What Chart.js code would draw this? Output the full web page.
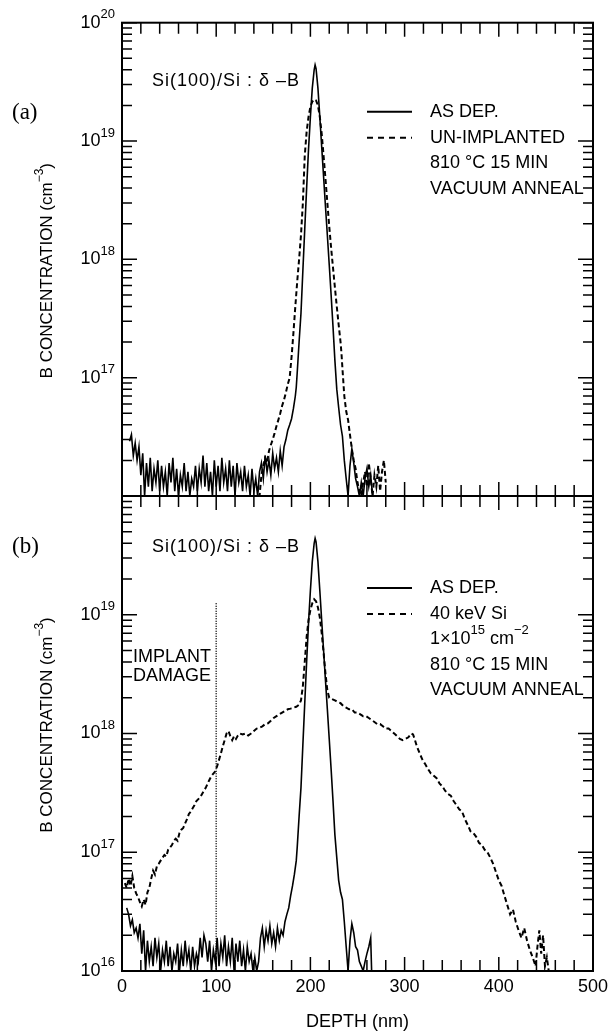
<!DOCTYPE html>
<html>
<head>
<meta charset="utf-8">
<script src="https://cdn.jsdelivr.net/npm/chart.js@4.4.0/dist/chart.umd.min.js"></script>
<style>
    html, body { margin: 0; padding: 0; background: #fff; }
    #wrap { position: relative; width: 611px; height: 1033px; }
    canvas { position: absolute; left: 0; }
    #chartA { top: 0; }
    #chartB { top: 480px; }
</style>
</head>
<body>
<div id="wrap">
    <canvas id="chartA" width="611" height="520"></canvas>
    <canvas id="chartB" width="611" height="553"></canvas>
</div>
<script>
// ---- data (depth in nm, B concentration in cm^-3) ----

// (a) as deposited
const depthAsDepA = [8,10,12,14,16,18,20,22,24,26,28,30,32,34,36,38,40,42,44,46,48,50,52,54,56,58,60,62,64,66,68,70,72,74,76,78,80,82,84,86,88,90,92,94,96,98,100,102,104,106,108,110,112,114,116,118,120,122,124,126,128,130,132,134,136,138,140,142,144,146,148,150,152,154,156,158,160,162,164,166,168,170,172,174,176,178,180,182,184,185,186,188,190,192,194,196,198,200,202,204,205,206,208,210,212,214,216,218,220,222,224,226,228,230,232,234,236,238,240,242,244,246,248,250,252,254,256,258,260,262,264,266];
const concAsDepA = [2.9e16,3.3e16,2.2e16,2.8e16,2.0e16,2.6e16,1.5e16,2.3e16,1.0e16,1.9e16,1.2e16,2.1e16,1.1e16,1.7e16,1.3e16,2.0e16,1.1e16,1.8e16,1.2e16,1.6e16,1.0e16,1.9e16,1.3e16,2.1e16,1.1e16,1.7e16,1.0e16,1.5e16,1.2e16,1.9e16,1.1e16,1.6e16,1.0e16,1.4e16,1.2e16,1.8e16,1.1e16,1.7e16,1.3e16,2.2e16,1.2e16,1.9e16,1.1e16,1.6e16,1.0e16,2.0e16,1.2e16,1.8e16,1.1e16,2.1e16,1.3e16,1.7e16,1.1e16,2.0e16,1.2e16,1.8e16,1.0e16,1.9e16,1.3e16,1.6e16,1.1e16,1.8e16,1.2e16,1.5e16,1.0e16,1.7e16,1.1e16,1.4e16,1.0e16,1.6e16,1.9e16,1.4e16,2.2e16,1.6e16,2.0e16,1.5e16,2.3e16,1.7e16,2.1e16,1.6e16,2.4e16,1.8e16,2.6e16,3.0e16,3.6e16,4.0e16,4.5e16,5.5e16,7.0e16,8.3e16,1.1e17,2.0e17,3.5e17,8.0e17,1.8e18,4.0e18,8.5e18,1.6e19,2.8e19,4.0e19,4.4e19,4.1e19,2.8e19,1.6e19,8.9e18,5.0e18,2.8e18,1.6e18,9.0e17,5.0e17,2.7e17,1.4e17,8.0e16,5.6e16,4.0e16,3.2e16,2.0e16,1.4e16,1.0e16,1.8e16,2.5e16,1.9e16,1.4e16,1.2e16,1.0e16,1.3e16,1.0e16,1.4e16,1.7e16,1.2e16,1.5e16,1.0e16];

// (a) un-implanted, 810 C 15 min vacuum anneal
const depthUnimplA = [143,146,148,150,152,154,156,158,160,162,164,166,168,170,172,174,176,178,180,182,184,186,188,190,192,194,196,198,200,202,204,206,208,210,212,214,216,218,220,222,224,226,228,230,232,233,234,236,238,240,242,244,246,248,250,252,254,256,258,260,262,264,266,268,270,272,274,276,278,280];
const concUnimplA = [1.2e16,1.0e16,1.5e16,1.8e16,2.1e16,1.9e16,2.4e16,2.7e16,3.0e16,3.4e16,3.9e16,4.4e16,5.0e16,5.8e16,6.5e16,7.5e16,8.8e16,1.0e17,1.5e17,2.4e17,4.0e17,6.5e17,1.0e18,1.6e18,3.0e18,7.5e18,1.2e19,1.6e19,1.95e19,2.15e19,2.25e19,2.2e19,2.0e19,1.6e19,1.15e19,7.5e18,4.8e18,3.0e18,1.9e18,1.25e18,8.5e17,5.8e17,4.0e17,2.8e17,2.0e17,1.6e17,1.2e17,7.0e16,5.2e16,4.4e16,3.3e16,2.5e16,2.0e16,1.7e16,1.3e16,1.1e16,1.0e16,1.3e16,1.6e16,1.2e16,1.9e16,1.4e16,1.0e16,1.5e16,1.2e16,1.8e16,1.1e16,1.6e16,2.0e16,1.3e16];

// (b) as deposited
const depthAsDepB = [5,7,9,11,13,15,17,19,21,23,25,27,29,31,33,35,37,39,41,43,45,47,49,51,53,55,57,59,61,63,65,67,69,71,73,75,77,79,81,83,85,87,89,91,93,95,97,99,101,103,105,107,109,111,113,115,117,119,121,123,125,127,129,131,133,135,137,139,141,143,145,147,149,151,153,155,157,159,161,163,165,167,169,171,173,175,177,179,181,183,185,186,188,190,192,194,196,198,200,202,204,205,206,208,210,212,214,216,218,220,222,224,226,228,230,232,234,236,238,240,242,244,246,248,250,252,254,256,258,260,262,264,265];
const concAsDepB = [3.4e16,3.0e16,2.4e16,2.7e16,2.1e16,2.3e16,1.9e16,2.5e16,1.4e16,2.2e16,1.0e16,1.8e16,1.2e16,1.6e16,1.1e16,1.9e16,1.3e16,1.7e16,1.0e16,1.5e16,1.2e16,1.8e16,1.1e16,1.6e16,1.0e16,1.4e16,1.2e16,1.7e16,1.0e16,1.5e16,1.1e16,1.8e16,1.2e16,1.5e16,1.0e16,1.6e16,1.1e16,1.4e16,1.2e16,1.9e16,1.3e16,2.0e16,1.7e16,1.2e16,1.8e16,1.0e16,1.5e16,1.2e16,1.9e16,1.1e16,1.7e16,1.3e16,2.0e16,1.1e16,1.6e16,1.2e16,1.9e16,1.0e16,1.7e16,1.2e16,1.8e16,1.1e16,1.5e16,1.0e16,1.6e16,1.2e16,1.4e16,1.0e16,1.3e16,1.0e16,1.2e16,1.9e16,2.3e16,1.6e16,2.2e16,1.8e16,2.4e16,1.7e16,2.1e16,1.6e16,2.3e16,1.8e16,2.2e16,2.0e16,2.6e16,3.0e16,3.4e16,4.3e16,5.2e16,6.5e16,8.5e16,1.1e17,2.0e17,3.5e17,8.0e17,1.8e18,4.0e18,8.5e18,1.6e19,2.8e19,4.0e19,4.4e19,4.1e19,2.8e19,1.6e19,8.9e18,5.0e18,2.8e18,1.6e18,9.0e17,5.0e17,2.7e17,1.4e17,9.0e16,5.8e16,4.6e16,4.0e16,2.6e16,1.6e16,1.0e16,1.8e16,2.5e16,2.1e16,1.6e16,1.5e16,1.2e16,1.1e16,1.0e16,1.2e16,1.4e16,1.6e16,1.9e16,1.0e16];

// (b) 40 keV Si, 1e15 cm^-2, 810 C 15 min vacuum anneal
const depthImplB = [3,5,7,9,11,13,15,17,19,21,23,25,27,29,31,33,35,37,39,41,43,45,47,49,51,53,55,57,59,61,63,65,67,69,71,73,75,77,79,81,83,85,87,89,91,93,95,97,99,101,103,105,107,109,111,113,115,117,119,121,123,125,128,131,134,137,140,143,146,149,152,155,158,161,164,167,170,173,176,179,182,185,188,190,192,194,196,198,200,202,204,206,208,210,212,214,216,218,220,223,226,229,232,235,238,241,244,247,250,253,256,259,262,265,268,271,274,277,280,283,286,289,292,295,298,301,304,307,309,311,313,316,319,322,325,328,331,334,337,340,343,346,349,352,355,358,361,364,367,370,373,376,379,382,385,388,391,394,397,400,403,406,409,412,415,418,421,424,427,430,433,436,439,441,443,445,447,449,451,453];
const concImplB = [5.5e16,5.0e16,6.0e16,5.2e16,6.3e16,5.0e16,4.5e16,4.2e16,3.8e16,3.5e16,4.0e16,3.6e16,4.6e16,5.0e16,6.0e16,7.0e16,6.5e16,7.6e16,8.0e16,8.5e16,9.0e16,9.5e16,9.2e16,1.05e17,1.1e17,1.15e17,1.25e17,1.3e17,1.25e17,1.45e17,1.55e17,1.6e17,1.75e17,1.9e17,2.1e17,2.2e17,2.35e17,2.5e17,2.7e17,2.8e17,2.9e17,3.1e17,3.3e17,3.5e17,3.8e17,4.1e17,4.4e17,4.6e17,4.8e17,5.3e17,6.0e17,6.8e17,7.8e17,8.8e17,1.0e18,1.05e18,9.5e17,8.8e17,9.5e17,9.0e17,9.6e17,1.0e18,9.8e17,1.0e18,9.6e17,1.0e18,1.05e18,1.1e18,1.12e18,1.15e18,1.2e18,1.22e18,1.28e18,1.35e18,1.4e18,1.45e18,1.5e18,1.55e18,1.6e18,1.62e18,1.65e18,1.68e18,1.75e18,1.9e18,2.5e18,4.0e18,6.5e18,9.0e18,1.1e19,1.25e19,1.35e19,1.3e19,1.15e19,9.5e18,7.0e18,4.8e18,3.2e18,2.3e18,2.0e18,1.95e18,1.9e18,1.85e18,1.8e18,1.7e18,1.65e18,1.6e18,1.6e18,1.5e18,1.5e18,1.45e18,1.4e18,1.4e18,1.35e18,1.3e18,1.25e18,1.2e18,1.2e18,1.15e18,1.1e18,1.1e18,1.05e18,1.0e18,9.5e17,9.0e17,8.8e17,9.0e17,9.3e17,1.0e18,9.8e17,8.8e17,7.8e17,6.8e17,6.0e17,5.5e17,5.0e17,4.6e17,4.4e17,4.2e17,3.8e17,3.6e17,3.3e17,3.1e17,3.0e17,2.7e17,2.5e17,2.3e17,2.2e17,1.9e17,1.7e17,1.5e17,1.45e17,1.35e17,1.2e17,1.15e17,1.05e17,1.0e17,9.0e16,8.0e16,6.8e16,5.8e16,5.2e16,4.3e16,3.6e16,3.0e16,3.3e16,2.6e16,2.2e16,1.9e16,2.3e16,1.8e16,1.5e16,1.3e16,1.1e16,1.6e16,2.2e16,1.4e16,2.0e16,1.1e16,1.3e16,1.0e16];

// implant damage marker
const damageDepth = [100, 100];
const damageConc = [1.25e19, 1.0e16];

// axes
const xTickLabels = [0, 100, 200, 300, 400, 500];
const yTickExpA = [20, 19, 18, 17];
const yTickExpB = [19, 18, 17, 16];

const FONT = '"Liberation Sans", Arial, Helvetica, sans-serif';
const SERIF = '"Liberation Serif", "Times New Roman", serif';

function toPoints(xs, ys) {
    return xs.map((x, i) => ({ x: x, y: ys[i] }));
}

// text made of [string, isSuperscript] pieces
function drawSegments(ctx, segs, x, y, size, align) {
    const supSize = Math.round(size * 0.72);
    let total = 0;
    segs.forEach(s => {
        ctx.font = (s[1] ? supSize : size) + 'px ' + FONT;
        total += ctx.measureText(s[0]).width;
    });
    let cx = align === 'right' ? x - total : (align === 'center' ? x - total / 2 : x);
    ctx.textAlign = 'left';
    ctx.textBaseline = 'middle';
    segs.forEach(s => {
        ctx.font = (s[1] ? supSize : size) + 'px ' + FONT;
        ctx.fillText(s[0], cx, s[1] ? y - size * 0.45 : y);
        cx += ctx.measureText(s[0]).width;
    });
}

// frame, inward ticks, tick labels, legend and notes
const figurePlugin = {
    id: 'figure',
    afterDatasetsDraw(chart, args, opts) {
        const ctx = chart.ctx;
        const a = chart.chartArea;
        const xs = chart.scales.x, ys = chart.scales.y;
        ctx.save();
        ctx.strokeStyle = '#000';
        ctx.fillStyle = '#000';
        ctx.setLineDash([]);

        // x ticks every 20 nm on top and bottom edges
        ctx.lineWidth = 1.5;
        for (let d = 0; d <= 500; d += 20) {
            const px = xs.getPixelForValue(d);
            const len = d % 100 === 0 ? 14 : 11;
            ctx.beginPath();
            ctx.moveTo(px, a.top); ctx.lineTo(px, a.top + len);
            ctx.moveTo(px, a.bottom); ctx.lineTo(px, a.bottom - len);
            ctx.stroke();
        }

        // y ticks, decades and 2..9
        for (let e = 16; e <= 20; e++) {
            for (let m = 1; m <= 9; m++) {
                if (e === 20 && m > 1) break;
                const py = ys.getPixelForValue(m * Math.pow(10, e));
                const len = m === 1 ? 15 : 10;
                ctx.beginPath();
                ctx.moveTo(a.left, py); ctx.lineTo(a.left + len, py);
                ctx.moveTo(a.right, py); ctx.lineTo(a.right - len, py);
                ctx.stroke();
            }
        }

        // frame
        ctx.lineWidth = 2;
        ctx.strokeRect(a.left, a.top, a.right - a.left, a.bottom - a.top);

        // y tick labels
        opts.yExps.forEach(e => {
            const py = ys.getPixelForValue(Math.pow(10, e));
            drawSegments(ctx, [['10', false], [String(e), true]], a.left - 7, py, 18, 'right');
        });

        // x tick labels
        if (opts.xLabels) {
            ctx.font = '18px ' + FONT;
            ctx.textAlign = 'center';
            ctx.textBaseline = 'middle';
            xTickLabels.forEach(v => {
                ctx.fillText(String(v), xs.getPixelForValue(v), a.bottom + 16);
            });
            ctx.fillText('DEPTH (nm)', (a.left + a.right) / 2, a.bottom + 51);
        }

        // y axis title
        ctx.save();
        ctx.translate(47, a.top + opts.titleY);
        ctx.rotate(-Math.PI / 2);
        drawSegments(ctx, [['B CONCENTRATION (cm', false], ['\u22123', true], [')', false]], 0, 0, 17, 'center');
        ctx.restore();

        // panel letter and sample title
        ctx.font = '23px ' + SERIF;
        ctx.textAlign = 'left';
        ctx.textBaseline = 'middle';
        ctx.fillText(opts.letter, 12, a.top + opts.letterY);
        ctx.letterSpacing = '1px';
        drawSegments(ctx, [['Si(100)/Si : \u03b4 \u2013B', false]], 152, a.top + opts.sampleY, 18, 'left');
        ctx.letterSpacing = '0px';

        // legend
        opts.legend.forEach(row => {
            const y = a.top + row.y;
            if (row.line) {
                ctx.lineWidth = 2;
                ctx.setLineDash(row.line === 'dash' ? [6, 5] : []);
                ctx.beginPath();
                ctx.moveTo(367, y); ctx.lineTo(412, y);
                ctx.stroke();
                ctx.setLineDash([]);
            }
            drawSegments(ctx, row.text, 430, y, 18, 'left');
        });

        // implant damage note
        if (opts.damage) {
            ctx.font = '18px ' + FONT;
            ctx.textAlign = 'left';
            ctx.textBaseline = 'middle';
            ctx.fillText('IMPLANT', 133, a.top + 161);
            ctx.fillText('DAMAGE', 133, a.top + 180);
        }
        ctx.restore();
    }
};

function lineSet(label, xs, ys, dashed) {
    return {
        label: label,
        data: toPoints(xs, ys),
        borderColor: '#000',
        borderWidth: dashed ? 2 : 1.6,
        borderDash: dashed ? [5, 3] : [],
        pointRadius: 0,
        tension: 0,
        fill: false
    };
}

function getOptions(padding, figureOpts) {
    return {
        responsive: false,
        animation: false,
        events: [],
        layout: { padding: padding },
        plugins: {
            legend: { display: false },
            tooltip: { enabled: false },
            figure: figureOpts
        },
        scales: {
            x: { type: 'linear', min: 0, max: 500, display: false },
            y: { type: 'logarithmic', min: 1e16, max: 1e20, display: false }
        }
    };
}

function initTopChart() {
    const ctx = document.getElementById('chartA').getContext('2d');
    window.chartA = new Chart(ctx, {
        type: 'line',
        data: {
            datasets: [
                lineSet('AS DEP.', depthAsDepA, concAsDepA, false),
                lineSet('UN-IMPLANTED', depthUnimplA, concUnimplA, true)
            ]
        },
        options: getOptions({ left: 122, right: 18, top: 22.7, bottom: 24 }, {
            yExps: yTickExpA,
            xLabels: false,
            titleY: 248,
            letter: '(a)',
            letterY: 90,
            sampleY: 58,
            damage: false,
            legend: [
                { y: 89, line: 'solid', text: [['AS DEP.', false]] },
                { y: 115, line: 'dash', text: [['UN-IMPLANTED', false]] },
                { y: 140.5, text: [['810 \u00b0C 15 MIN', false]] },
                { y: 166, text: [['VACUUM ANNEAL', false]] }
            ]
        }),
        plugins: [figurePlugin]
    });
}

function initBottomChart() {
    const ctx = document.getElementById('chartB').getContext('2d');
    const damage = lineSet('damage', damageDepth, damageConc, false);
    damage.borderDash = [1, 1.5];
    damage.borderWidth = 1.5;
    window.chartB = new Chart(ctx, {
        type: 'line',
        data: {
            datasets: [
                damage,
                lineSet('AS DEP.', depthAsDepB, concAsDepB, false),
                lineSet('40 keV Si', depthImplB, concImplB, true)
            ]
        },
        options: getOptions({ left: 122, right: 18, top: 16, bottom: 62 }, {
            yExps: yTickExpB,
            xLabels: true,
            titleY: 229,
            letter: '(b)',
            letterY: 51,
            sampleY: 51,
            damage: true,
            legend: [
                { y: 92, line: 'solid', text: [['AS DEP.', false]] },
                { y: 118, line: 'dash', text: [['40 keV Si', false]] },
                { y: 143, text: [['1\u00d710', false], ['15', true], [' cm', false], ['\u22122', true]] },
                { y: 169, text: [['810 \u00b0C 15 MIN', false]] },
                { y: 194, text: [['VACUUM ANNEAL', false]] }
            ]
        }),
        plugins: [figurePlugin]
    });
}

document.addEventListener('DOMContentLoaded', function() {
    initTopChart();
    initBottomChart();
});
</script>
</body>
</html>
